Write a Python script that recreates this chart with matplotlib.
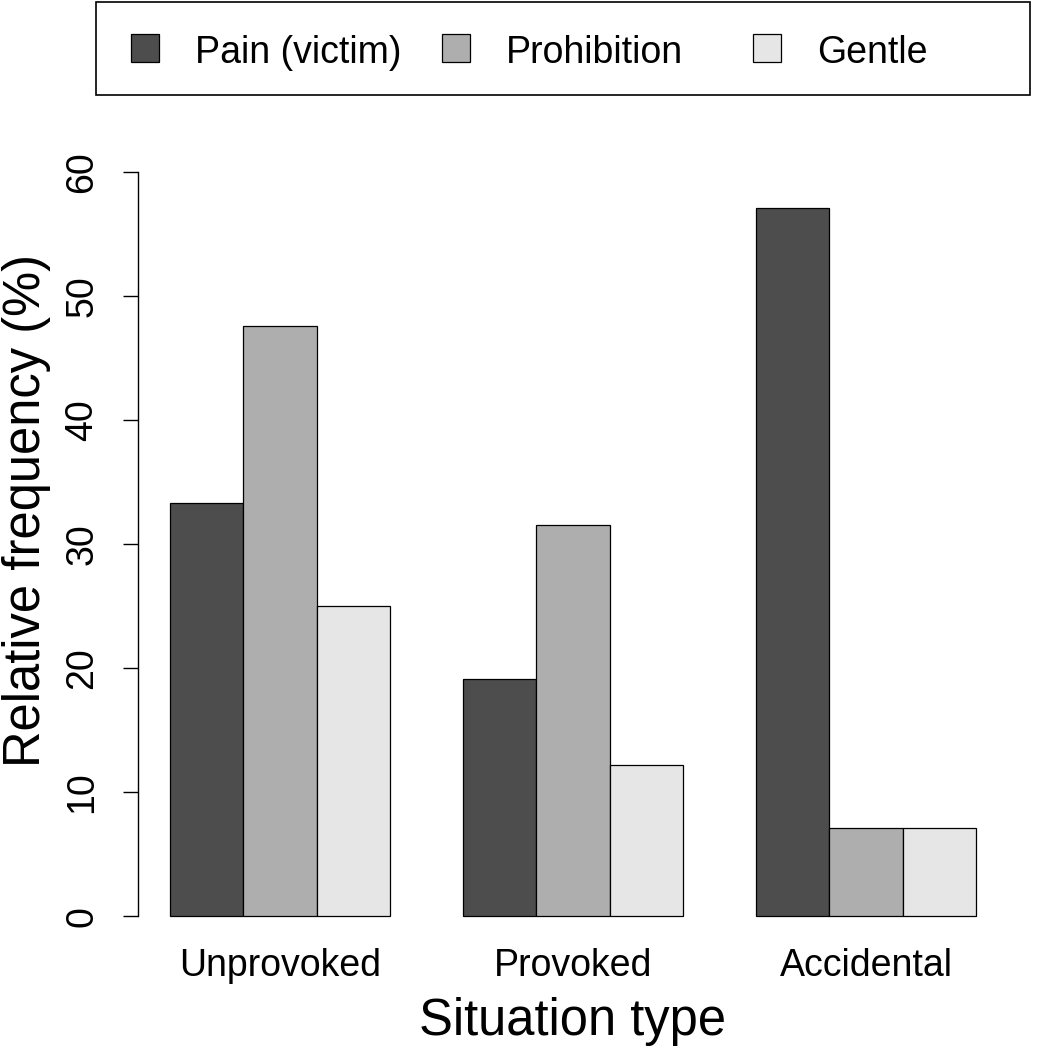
import matplotlib
matplotlib.use('Agg')
import matplotlib.pyplot as plt
from matplotlib.patches import Rectangle
import numpy as np

plt.rcParams['font.family'] = ['Liberation Sans', 'DejaVu Sans']

situaciones = ['Unprovoked', 'Provoked', 'Accidental']
series = ['Pain (victim)', 'Prohibition', 'Gentle']
pain = [33.3, 19.1, 57.1]
prohibition = [47.6, 31.5, 7.1]
gentle = [25.0, 12.2, 7.1]
colores = ['#4D4D4D', '#AEAEAE', '#E6E6E6']
yticks = [0, 10, 20, 30, 40, 50, 60]

fig = plt.figure(figsize=(10.5, 10.48), dpi=100)
ax = fig.add_axes([138/1050, 1 - 946/1048, 870/1050, 804/1048])

# R style barplot (beside=TRUE): groups of 3 with one bar of space
valores = [pain, prohibition, gentle]
for s, (vals, col) in enumerate(zip(valores, colores)):
    lefts = [1 + g*4 + s for g in range(len(situaciones))]
    ax.bar(lefts, vals, width=1, align='edge', color=col,
           edgecolor='black', linewidth=0.9)

ax.set_xlim(0.56, 12.44)
ax.set_ylim(-2.4, 62.4)

for sp in ['top', 'right', 'bottom']:
    ax.spines[sp].set_visible(False)
ax.spines['left'].set_bounds(0, 60)
ax.spines['left'].set_linewidth(1.0)

ax.set_yticks(yticks)
ax.set_yticklabels([str(t) for t in yticks])
ax.tick_params(axis='y', length=11, width=1.0, pad=16, labelsize=27,
               labelrotation=90)
for lab in ax.get_yticklabels():
    lab.set_va('center')

centros = [2.5 + g*4 for g in range(len(situaciones))]
ax.set_xticks(centros)
ax.set_xticklabels(situaciones)
ax.tick_params(axis='x', length=0, pad=1.5, labelsize=27)

ax.set_xlabel('Situation type', fontsize=36.5)
ax.xaxis.set_label_coords(0.5, -0.064)
ax.set_ylabel('Relative frequency (%)', fontsize=36.5)
ax.yaxis.set_label_coords(-0.100, 0.542)

# leyenda arriba, fuera del grafico
fig.add_artist(Rectangle((96/1050, 1 - 95/1048), 934/1050, 93/1048,
                         transform=fig.transFigure, facecolor='none',
                         edgecolor='black', linewidth=1.2))
for i, (nombre, col) in enumerate(zip(series, colores)):
    x0 = 131 + i*311
    fig.add_artist(Rectangle((x0/1050, 1 - 62/1048), 28/1050, 28/1048,
                             transform=fig.transFigure, facecolor=col,
                             edgecolor='black', linewidth=0.9))
    fig.text((x0 + 64)/1050, 1 - 63/1048, nombre, fontsize=27,
             va='baseline', ha='left')

fig.savefig('out.png', dpi=100)
